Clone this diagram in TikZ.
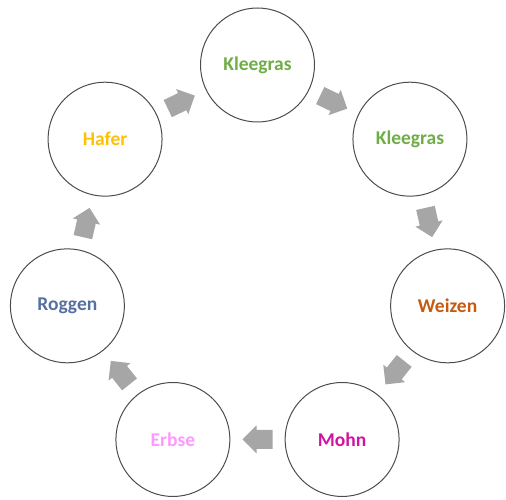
\documentclass[tikz,border=0pt]{standalone}
\usepackage{fontspec}
\setmainfont{Carlito}
\usetikzlibrary{calc}
\definecolor{kgreen}{HTML}{70AD47}
\definecolor{worange}{HTML}{C55A11}
\definecolor{mmag}{HTML}{D014A0}
\definecolor{epink}{HTML}{FF99FF}
\definecolor{rblue}{HTML}{56709F}
\definecolor{hgold}{HTML}{FFC000}
\definecolor{arrgray}{HTML}{A6A6A6}
\tikzset{
  crop/.style={circle, draw=black!70, line width=1pt, minimum size=114pt, inner sep=0pt,
    font=\bfseries\fontsize{19.5}{22}\selectfont},
  blockarrow/.style={fill=arrgray, draw=none}
}
\begin{document}
\begin{tikzpicture}[x=1pt,y=1pt]
\useasboundingbox (0,0) rectangle (506,499);
\foreach \i/\name/\txt/\col in {0/k1/Kleegras/kgreen, 1/k2/Kleegras/kgreen, 2/w/Weizen/worange, 3/m/Mohn/mmag, 4/e/Erbse/epink, 5/r/Roggen/rblue, 6/h/Hafer/hgold} {
  \pgfmathsetmacro\ang{90-\i*360/7}
  \node[crop, text=\col] (\name) at ({257.5+195*cos(\ang)},{237+197*sin(\ang)}) {\txt};
}
\foreach \a/\b [count=\i from 0] in {k1/k2, k2/w, w/m, m/e, e/r, r/h, h/k1} {
  \pgfmathsetmacro\rot{-(\i+0.5)*360/7}
  \begin{scope}[shift={($(\a)!0.5!(\b)$)}, rotate=\rot]
    \fill[blockarrow] (-15,-9.5) -- (1,-9.5) -- (1,-14) -- (15,0) -- (1,14) -- (1,9.5) -- (-15,9.5) -- cycle;
  \end{scope}
}
\end{tikzpicture}
\end{document}
